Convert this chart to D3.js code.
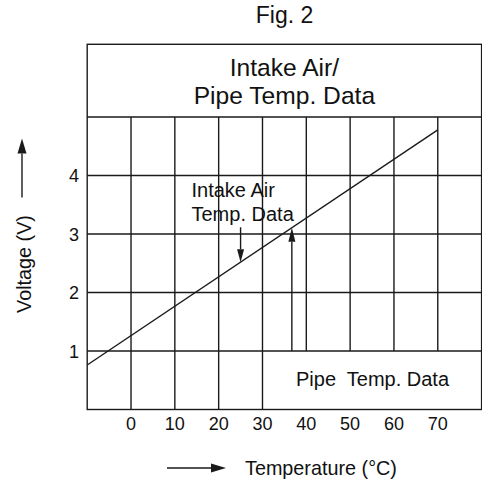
<!DOCTYPE html>
<html><head><meta charset="utf-8">
<script src="https://cdn.jsdelivr.net/npm/d3@7"></script>
<style>
html,body{margin:0;padding:0;background:#fff;}
svg text{font-family:"Liberation Sans",Arial,Helvetica,sans-serif;fill:#111;white-space:pre;}
</style></head>
<body><svg id="c" width="482" height="486"></svg>
<script>
// ---- data ----
const tempTicks = [0, 10, 20, 30, 40, 50, 60, 70];
const voltTicks = [1, 2, 3, 4];
const lineTemp = [-10, 70];
const lineVolt = [0.76, 4.78];
const intakeArrowTemp = 25;
const pipeArrowTemp = 36.7;
const headerLines = ["Intake Air/", "Pipe Temp. Data"];
const intakeLabel = ["Intake Air", "Temp. Data"];
const pipeLabel = "Pipe  Temp. Data";

// ---- layout ----
const svg = d3.select("#c");
const x = d3.scaleLinear().domain([-10, 80]).range([87.2, 481.6]);
const y = d3.scaleLinear().domain([0, 5]).range([409.5, 117]);
const topY = 44.3;
const ink = "#1a1a1a", sw = 1.4;
const voltAt = t => lineVolt[0] + (t - lineTemp[0]) * (lineVolt[1] - lineVolt[0]) / (lineTemp[1] - lineTemp[0]);

const g = svg.append("g").attr("stroke", ink).attr("stroke-width", sw).attr("fill", "none");

// horizontal grid lines
g.selectAll(".h").data(voltTicks).join("line")
  .attr("x1", x(-10)).attr("x2", x(80)).attr("y1", d => y(d)).attr("y2", d => y(d));
// header separator
g.append("line").attr("x1", x(-10)).attr("x2", x(80)).attr("y1", y(5)).attr("y2", y(5));
// vertical grid lines (40..70 stop at 1 V: pipe label box)
g.selectAll(".v").data(tempTicks).join("line")
  .attr("x1", d => x(d)).attr("x2", d => x(d))
  .attr("y1", y(5)).attr("y2", d => d >= 40 ? y(1) : y(0));
// outer frame
g.append("rect").attr("x", x(-10)).attr("y", topY)
  .attr("width", x(80) - x(-10)).attr("height", y(0) - topY);

// data line
g.append("line")
  .attr("x1", x(lineTemp[0])).attr("y1", y(lineVolt[0]))
  .attr("x2", x(lineTemp[1])).attr("y2", y(lineVolt[1]));

// arrow helper
function arrow(x1, y1, x2, y2, len, wid) {
  const dx = x2 - x1, dy = y2 - y1, L = Math.hypot(dx, dy);
  const ux = dx / L, uy = dy / L;
  const bx = x2 - ux * len, by = y2 - uy * len;
  svg.append("line").attr("x1", x1).attr("y1", y1).attr("x2", bx).attr("y2", by)
    .attr("stroke", ink).attr("stroke-width", sw);
  svg.append("path")
    .attr("d", `M${x2},${y2}L${bx - uy * wid / 2},${by + ux * wid / 2}L${bx + uy * wid / 2},${by - ux * wid / 2}Z`)
    .attr("fill", ink).attr("stroke", "none");
}
// intake air arrow (down to the line)
arrow(x(intakeArrowTemp), 227.3, x(intakeArrowTemp), y(voltAt(intakeArrowTemp)), 13, 7);
// pipe arrow (up from 1 V to the line)
arrow(x(pipeArrowTemp), y(1), x(pipeArrowTemp), y(voltAt(pipeArrowTemp)), 14, 7);
// axis title arrows
arrow(22, 197.5, 22, 138.5, 15, 9);
arrow(167, 468, 226, 468, 15, 9);

// texts
svg.append("text").attr("x", 284.5).attr("y", 23.3).attr("text-anchor", "middle")
  .attr("font-size", 23).text("Fig. 2");
svg.selectAll(".hdr").data(headerLines).join("text")
  .attr("x", (x(-10) + x(80)) / 2).attr("y", (d, i) => 76 + i * 28)
  .attr("text-anchor", "middle").attr("font-size", 24.6).text(d => d);
svg.selectAll(".il").data(intakeLabel).join("text")
  .attr("x", 191.5).attr("y", (d, i) => 197.3 + i * 23.4)
  .attr("font-size", 20).text(d => d);
svg.append("text").attr("x", 296).attr("y", 385.5).attr("font-size", 20).text(pipeLabel);

// tick labels
svg.selectAll(".xt").data(tempTicks).join("text")
  .attr("x", d => x(d)).attr("y", 430).attr("text-anchor", "middle")
  .attr("font-size", 18).text(d => d);
svg.selectAll(".yt").data(voltTicks).join("text")
  .attr("x", 79).attr("y", d => y(d) + 6.5).attr("text-anchor", "end")
  .attr("font-size", 18).text(d => d);

// axis titles
svg.append("text").attr("transform", "translate(30.5,264) rotate(-90)")
  .attr("text-anchor", "middle").attr("font-size", 19.8).text("Voltage (V)");
svg.append("text").attr("x", 245).attr("y", 475).attr("font-size", 19.8).text("Temperature (°C)");
</script></body></html>
